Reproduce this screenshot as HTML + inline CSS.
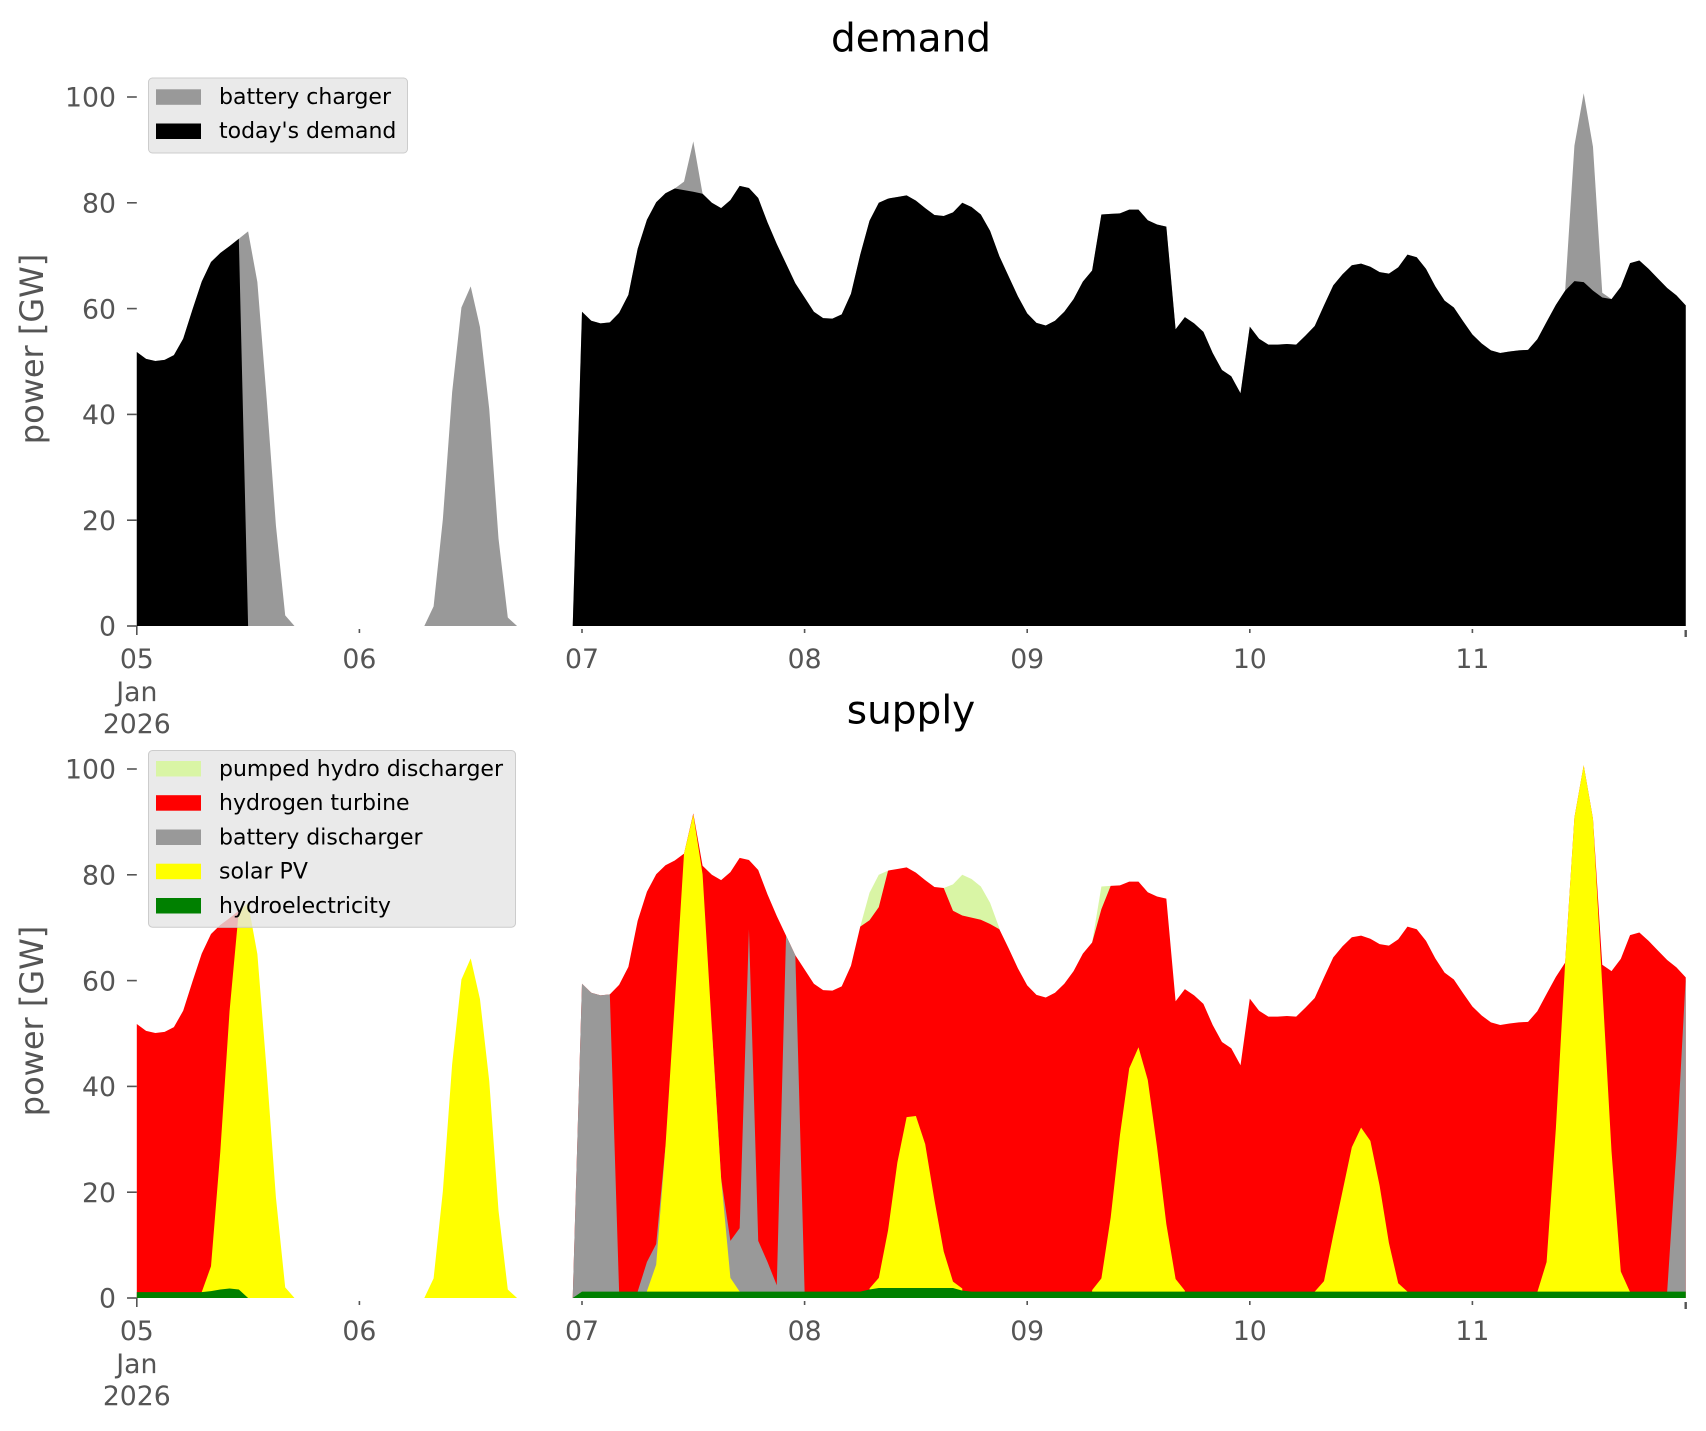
<!DOCTYPE html>
<html>
<head>
<meta charset="utf-8">
<style>
html,body{margin:0;padding:0;background:#fff;}
svg{display:block;}
text{font-family:"DejaVu Sans","Liberation Sans",sans-serif;}
</style>
</head>
<body>
<svg width="1706" height="1431" viewBox="0 0 1706 1431" xmlns="http://www.w3.org/2000/svg">
<rect x="0" y="0" width="1706" height="1431" fill="#ffffff"/>

<!-- ================= TOP: demand ================= -->
<g transform="translate(136.8,626) scale(9.275,-5.29)">
<polygon fill="#999999" points="0,0 0,51.8 1,50.5 2,50.1 3,50.3 4,51.2 5,54.3 6,59.8 7,65.1 8,68.8 9,70.5 10,71.8 11,73.2 12,74.6 13,65 14,43 15,19 16,2 17,0 31,0 32,3.7 33,20.2 34,44.2 35,60.2 36,64.2 37,56.5 38,41 39,16.5 40,1.6 41,0 47,0 48,59.4 49,57.7 50,57.2 51,57.4 52,59.2 53,62.6 54,71.3 55,76.8 56,80.1 57,81.8 58,82.7 59,84 60,91.6 61,81.7 62,80 63,79 64,80.5 65,83.2 66,82.8 67,80.9 68,76.3 69,72.2 70,68.5 71,64.8 72,62.1 73,59.4 74,58.2 75,58.1 76,58.9 77,62.8 78,70.2 79,76.6 80,80 81,80.8 82,81.1 83,81.4 84,80.4 85,79 86,77.7 87,77.5 88,78.2 89,80 90,79.2 91,77.8 92,74.7 93,69.9 94,66.1 95,62.3 96,59.1 97,57.3 98,56.8 99,57.7 100,59.4 101,61.8 102,65.1 103,67.2 104,77.8 105,77.9 106,78 107,78.7 108,78.7 109,76.7 110,75.9 111,75.5 112,56.1 113,58.4 114,57.2 115,55.6 116,51.6 117,48.4 118,47.2 119,44 120,56.6 121,54.3 122,53.2 123,53.2 124,53.3 125,53.2 126,54.9 127,56.7 128,60.6 129,64.4 130,66.5 131,68.2 132,68.5 133,67.9 134,66.9 135,66.6 136,67.8 137,70.2 138,69.7 139,67.5 140,64.2 141,61.5 142,60.2 143,57.6 144,55.1 145,53.4 146,52.1 147,51.6 148,51.9 149,52.1 150,52.2 151,54.2 152,57.5 153,60.7 154,63.4 155,90.8 156,100.7 157,90.6 158,63 159,61.8 160,64.1 161,68.6 162,69.1 163,67.5 164,65.7 165,63.9 166,62.5 167,60.6 167,0"/>
<polygon fill="#000000" points="0,0 0,51.8 1,50.5 2,50.1 3,50.3 4,51.2 5,54.3 6,59.8 7,65.1 8,68.8 9,70.5 10,71.8 11,73.2 12,0"/>
<polygon fill="#000000" points="47,0 48,59.4 49,57.7 50,57.2 51,57.4 52,59.2 53,62.6 54,71.3 55,76.8 56,80.1 57,81.8 58,82.7 59,82.4 60,82.1 61,81.7 62,80 63,79 64,80.5 65,83.2 66,82.8 67,80.9 68,76.3 69,72.2 70,68.5 71,64.8 72,62.1 73,59.4 74,58.2 75,58.1 76,58.9 77,62.8 78,70.2 79,76.6 80,80 81,80.8 82,81.1 83,81.4 84,80.4 85,79 86,77.7 87,77.5 88,78.2 89,80 90,79.2 91,77.8 92,74.7 93,69.9 94,66.1 95,62.3 96,59.1 97,57.3 98,56.8 99,57.7 100,59.4 101,61.8 102,65.1 103,67.2 104,77.8 105,77.9 106,78 107,78.7 108,78.7 109,76.7 110,75.9 111,75.5 112,56.1 113,58.4 114,57.2 115,55.6 116,51.6 117,48.4 118,47.2 119,44 120,56.6 121,54.3 122,53.2 123,53.2 124,53.3 125,53.2 126,54.9 127,56.7 128,60.6 129,64.4 130,66.5 131,68.2 132,68.5 133,67.9 134,66.9 135,66.6 136,67.8 137,70.2 138,69.7 139,67.5 140,64.2 141,61.5 142,60.2 143,57.6 144,55.1 145,53.4 146,52.1 147,51.6 148,51.9 149,52.1 150,52.2 151,54.2 152,57.5 153,60.7 154,63.4 155,65.2 156,65 157,63.4 158,62.1 159,61.8 160,64.1 161,68.6 162,69.1 163,67.5 164,65.7 165,63.9 166,62.5 167,60.6 167,0"/>
</g>

<!-- top axes ticks -->
<g stroke="#555555" stroke-width="1.6" fill="none">
<line x1="127" y1="626" x2="136.8" y2="626"/>
<line x1="127" y1="520.2" x2="136.8" y2="520.2"/>
<line x1="127" y1="414.4" x2="136.8" y2="414.4"/>
<line x1="127" y1="308.6" x2="136.8" y2="308.6"/>
<line x1="127" y1="202.8" x2="136.8" y2="202.8"/>
<line x1="127" y1="97" x2="136.8" y2="97"/>
<line x1="136.8" y1="626" x2="136.8" y2="635"/>
<line x1="359.4" y1="629" x2="359.4" y2="633"/>
<line x1="582" y1="629" x2="582" y2="633"/>
<line x1="804.6" y1="629" x2="804.6" y2="633"/>
<line x1="1027.2" y1="629" x2="1027.2" y2="633"/>
<line x1="1249.8" y1="629" x2="1249.8" y2="633"/>
<line x1="1472.4" y1="629" x2="1472.4" y2="633"/>
<line x1="1685.7" y1="630" x2="1685.7" y2="637" stroke-width="2.4"/>
</g>
<g fill="#555555" font-size="26.7" text-anchor="end">
<text x="116" y="635.7">0</text>
<text x="116" y="529.9">20</text>
<text x="116" y="424.1">40</text>
<text x="116" y="318.3">60</text>
<text x="116" y="212.5">80</text>
<text x="116" y="106.7">100</text>
</g>
<g fill="#555555" font-size="26.7" text-anchor="middle">
<text x="136.8" y="668">05</text>
<text x="136.8" y="701">Jan</text>
<text x="136.8" y="733">2026</text>
<text x="359.4" y="668">06</text>
<text x="582" y="668">07</text>
<text x="804.6" y="668">08</text>
<text x="1027.2" y="668">09</text>
<text x="1249.8" y="668">10</text>
<text x="1472.4" y="668">11</text>
</g>
<text x="911" y="51.7" font-size="39" text-anchor="middle" fill="#000000">demand</text>
<text transform="translate(43,349) rotate(-90)" font-size="32" text-anchor="middle" fill="#555555">power [GW]</text>

<!-- top legend -->
<rect x="148.5" y="78" width="259" height="75" rx="4" ry="4" fill="#E5E5E5" fill-opacity="0.8" stroke="#CCCCCC" stroke-width="1"/>
<rect x="156" y="89.3" width="45" height="15.5" fill="#999999"/>
<rect x="156" y="123.5" width="45" height="15.5" fill="#000000"/>
<g font-size="22" fill="#000000">
<text x="219" y="104">battery charger</text>
<text x="219" y="138.2">today's demand</text>
</g>

<!-- ================= BOTTOM: supply ================= -->
<g transform="translate(136.8,1298) scale(9.275,-5.29)">
<!-- pumped hydro (top layer) -->
<polygon fill="#D9F5A5" points="78,0 78,70.2 79,76.6 80,80 81,80.8 81,0"/>
<polygon fill="#D9F5A5" points="87,0 87,77.5 88,78.2 89,80 90,79.2 91,77.8 92,74.7 93,69.9 93,0"/>
<polygon fill="#D9F5A5" points="103,0 103,67.2 104,77.8 105,77.9 105,0"/>
<!-- hydrogen turbine -->
<polygon fill="#FF0000" points="0,0 0,51.8 1,50.5 2,50.1 3,50.3 4,51.2 5,54.3 6,59.8 7,65.1 8,68.8 9,70.5 10,71.8 11,73.2 11,0"/>
<polygon fill="#FF0000" points="47,0 48,59.4 49,57.7 50,57.2 51,57.4 52,59.2 53,62.6 54,71.3 55,76.8 56,80.1 57,81.8 58,82.7 59,84 60,91.6 61,81.7 62,80 63,79 64,80.5 65,83.2 66,82.8 67,80.9 68,76.3 69,72.2 70,68.5 71,64.8 72,62.1 73,59.4 74,58.2 75,58.1 76,58.9 77,62.8 78,70.2 79,71.4 80,73.9 81,80.8 82,81.1 83,81.4 84,80.4 85,79 86,77.7 87,77.5 88,73.2 89,72.3 90,71.9 91,71.5 92,70.7 93,69.7 94,66.1 95,62.3 96,59.1 97,57.3 98,56.8 99,57.7 100,59.4 101,61.8 102,65.1 103,67.2 104,73.5 105,77.9 106,78 107,78.7 108,78.7 109,76.7 110,75.9 111,75.5 112,56.1 113,58.4 114,57.2 115,55.6 116,51.6 117,48.4 118,47.2 119,44 120,56.6 121,54.3 122,53.2 123,53.2 124,53.3 125,53.2 126,54.9 127,56.7 128,60.6 129,64.4 130,66.5 131,68.2 132,68.5 133,67.9 134,66.9 135,66.6 136,67.8 137,70.2 138,69.7 139,67.5 140,64.2 141,61.5 142,60.2 143,57.6 144,55.1 145,53.4 146,52.1 147,51.6 148,51.9 149,52.1 150,52.2 151,54.2 152,57.5 153,60.7 154,63.4 155,90.8 156,100.7 157,90.6 158,63 159,61.8 160,64.1 161,68.6 162,69.1 163,67.5 164,65.7 165,63.9 166,62.5 167,60.6 167,0"/>
<!-- battery discharger -->
<polygon fill="#999999" points="47,0 48,59.4 49,57.7 50,57.2 51,57.4 52,1.2 52,0"/>
<polygon fill="#999999" points="54,0 54,1.2 55,6.8 56,10.2 57,28.7 57,0"/>
<polygon fill="#999999" points="62,0 62,51 63,22.6 64,10.8 65,13.2 66,69.7 67,10.8 68,6.8 69,2.4 70,68.5 71,64.8 72,1.2 72,0"/>
<polygon fill="#999999" points="165,0 165,1.2 166,28 167,60.6 167,0"/>
<!-- solar PV -->
<polygon fill="#FFFF00" points="7,0 7,1.1 8,6 9,27.6 10,54.2 11,73.2 12,74.6 13,65 14,43 15,19 16,2 17,0"/>
<polygon fill="#FFFF00" points="31,0 32,3.7 33,20.2 34,44.2 35,60.2 36,64.2 37,56.5 38,41 39,16.5 40,1.6 41,0"/>
<polygon fill="#FFFF00" points="55,0 55,1.3 56,6.3 57,28.7 58,55.9 59,84 60,91.4 61,80.1 62,51 63,22.6 64,3.8 65,1.2 65,0"/>
<polygon fill="#FFFF00" points="79,0 79,1.8 80,3.8 81,12.8 82,25.6 83,34.2 84,34.4 85,29.1 86,18.5 87,8.8 88,3.1 89,1.8 89,0"/>
<polygon fill="#FFFF00" points="103,0 103,1.5 104,3.7 105,15.2 106,30.8 107,43.4 108,47.4 109,41.2 110,28.5 111,14 112,3.6 113,1.4 113,0"/>
<polygon fill="#FFFF00" points="127,0 127,1.2 128,3.2 129,11.9 130,20.2 131,28.5 132,32.2 133,29.7 134,21.2 135,10.4 136,2.8 137,1.2 137,0"/>
<polygon fill="#FFFF00" points="151,0 151,1.1 152,6.8 153,32.1 154,63.4 155,90.8 156,100.7 157,90.6 158,59 159,27.7 160,5 161,1.1 161,0"/>
<!-- hydroelectricity -->
<polygon fill="#008000" points="0,0 0,1.1 7,1.1 8,1.3 9,1.6 10,1.8 11,1.6 12,0"/>
<polygon fill="#008000" points="47,0 48,1.2 78,1.2 79,1.6 80,1.9 88,1.9 89,1.4 90,1.2 167,1.2 167,0"/>
</g>

<!-- bottom axes ticks -->
<g stroke="#555555" stroke-width="1.6" fill="none">
<line x1="127" y1="1298" x2="136.8" y2="1298"/>
<line x1="127" y1="1192.2" x2="136.8" y2="1192.2"/>
<line x1="127" y1="1086.4" x2="136.8" y2="1086.4"/>
<line x1="127" y1="980.6" x2="136.8" y2="980.6"/>
<line x1="127" y1="874.8" x2="136.8" y2="874.8"/>
<line x1="127" y1="769" x2="136.8" y2="769"/>
<line x1="136.8" y1="1298" x2="136.8" y2="1307"/>
<line x1="359.4" y1="1301" x2="359.4" y2="1305"/>
<line x1="582" y1="1301" x2="582" y2="1305"/>
<line x1="804.6" y1="1301" x2="804.6" y2="1305"/>
<line x1="1027.2" y1="1301" x2="1027.2" y2="1305"/>
<line x1="1249.8" y1="1301" x2="1249.8" y2="1305"/>
<line x1="1472.4" y1="1301" x2="1472.4" y2="1305"/>
<line x1="1685.7" y1="1302" x2="1685.7" y2="1309" stroke-width="2.4"/>
</g>
<g fill="#555555" font-size="26.7" text-anchor="end">
<text x="116" y="1307.7">0</text>
<text x="116" y="1201.9">20</text>
<text x="116" y="1096.1">40</text>
<text x="116" y="990.3">60</text>
<text x="116" y="884.5">80</text>
<text x="116" y="778.7">100</text>
</g>
<g fill="#555555" font-size="26.7" text-anchor="middle">
<text x="136.8" y="1340">05</text>
<text x="136.8" y="1373">Jan</text>
<text x="136.8" y="1405">2026</text>
<text x="359.4" y="1340">06</text>
<text x="582" y="1340">07</text>
<text x="804.6" y="1340">08</text>
<text x="1027.2" y="1340">09</text>
<text x="1249.8" y="1340">10</text>
<text x="1472.4" y="1340">11</text>
</g>
<text x="911" y="723.7" font-size="39" text-anchor="middle" fill="#000000">supply</text>
<text transform="translate(43,1021) rotate(-90)" font-size="32" text-anchor="middle" fill="#555555">power [GW]</text>

<!-- bottom legend -->
<rect x="148.5" y="750.5" width="367" height="176.7" rx="4" ry="4" fill="#E5E5E5" fill-opacity="0.8" stroke="#CCCCCC" stroke-width="1"/>
<rect x="156" y="761" width="45" height="15.5" fill="#D9F5A5"/>
<rect x="156" y="795.2" width="45" height="15.5" fill="#FF0000"/>
<rect x="156" y="829.5" width="45" height="15.5" fill="#999999"/>
<rect x="156" y="863.7" width="45" height="15.5" fill="#FFFF00"/>
<rect x="156" y="898" width="45" height="15.5" fill="#008000"/>
<g font-size="22" fill="#000000">
<text x="219" y="776">pumped hydro discharger</text>
<text x="219" y="810.2">hydrogen turbine</text>
<text x="219" y="844.5">battery discharger</text>
<text x="219" y="878.7">solar PV</text>
<text x="219" y="913">hydroelectricity</text>
</g>
</svg>
</body>
</html>
